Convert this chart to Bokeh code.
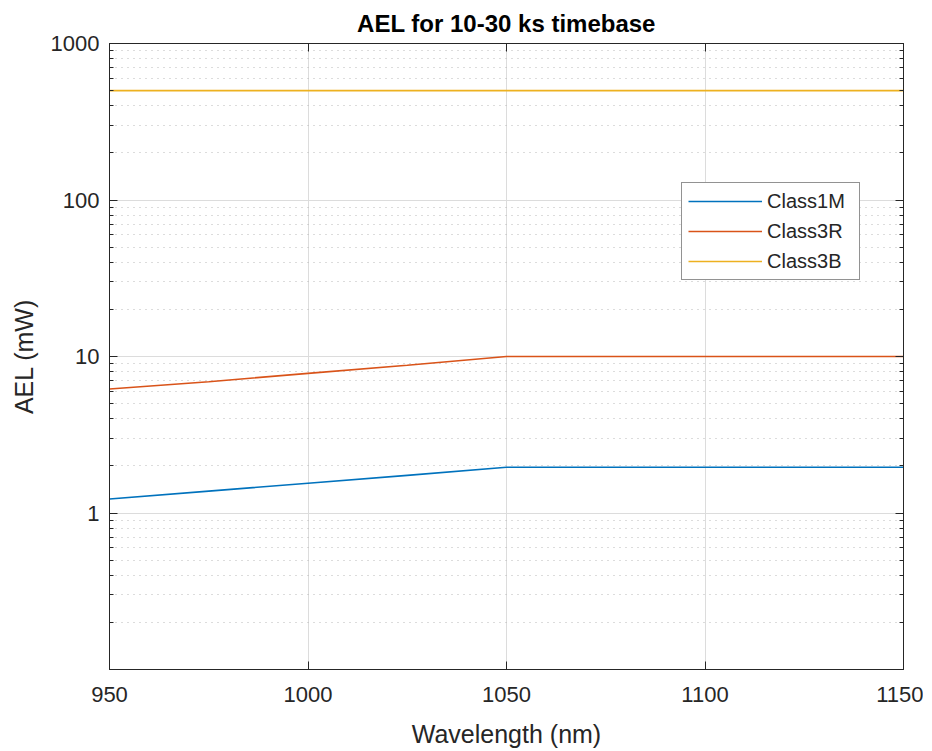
from bokeh.plotting import figure
from bokeh.models import (LinearAxis, LogAxis, FixedTicker, Legend, LegendItem,
                          PrintfTickFormatter, CustomJSTickFormatter, ColumnDataSource)
from bokeh.embed import file_html
from bokeh.resources import INLINE

# ---- data ----
wavelength = [950, 975, 1000, 1025, 1050, 1100, 1150]
class1m = [1.23, 1.38, 1.55, 1.74, 1.96, 1.96, 1.96]
class3r = [6.2, 6.9, 7.8, 8.8, 10.0, 10.0, 10.0]
class3b = [500, 500, 500, 500, 500, 500, 500]
series_names = ["Class1M", "Class3R", "Class3B"]
series_colors = ["#0072BD", "#D95319", "#EDB120"]
x_ticks = [950, 1000, 1050, 1100, 1150]
y_ticks = [1, 10, 100, 1000]

FONT = "Liberation Sans"
TXT = "#262626"

src = ColumnDataSource(dict(x=wavelength, c1=class1m, c3r=class3r, c3b=class3b))

p = figure(x_range=(950, 1150), y_range=(0.1, 1000), y_axis_type="log",
           frame_width=794, frame_height=626,
           min_border_left=109, min_border_right=20, min_border_top=43, min_border_bottom=79,
           output_backend="svg", toolbar_location=None,
           title="AEL for 10-30 ks timebase")
p.background_fill_color = "white"
p.border_fill_color = "white"
p.outline_line_color = TXT
p.outline_line_width = 1

p.title.align = "center"
p.title.text_font = FONT
p.title.text_font_size = "24px"
p.title.text_font_style = "bold"
p.title.text_color = "black"
p.title.standoff = 14

minor_y = [m * 10 ** e for e in range(-1, 3) for m in range(2, 10)]
yticker = FixedTicker(ticks=y_ticks, minor_ticks=minor_y)
xticker = FixedTicker(ticks=x_ticks)

def style_axis(ax, labels=True, minor=True):
    ax.axis_line_color = TXT
    ax.major_tick_line_color = TXT
    ax.minor_tick_line_color = TXT if minor else None
    ax.major_tick_in = 8
    ax.major_tick_out = 0
    ax.minor_tick_in = 4
    ax.minor_tick_out = 0
    ax.major_label_text_font = FONT
    ax.major_label_text_color = TXT
    ax.major_label_text_font_size = "22px"
    if not labels:
        ax.formatter = CustomJSTickFormatter(code="return ''")
        ax.major_label_standoff = 0

xa = p.xaxis[0]
xa.ticker = xticker
style_axis(xa, minor=False)
xa.major_label_standoff = 17
xa.axis_label = "Wavelength (nm)"
xa.axis_label_text_font = FONT
xa.axis_label_text_font_size = "25px"
xa.axis_label_text_font_style = "normal"
xa.axis_label_text_color = TXT
xa.axis_label_standoff = 15

ya = p.yaxis[0]
ya.ticker = yticker
ya.formatter = PrintfTickFormatter(format="%d")
style_axis(ya)
ya.major_label_standoff = 10
ya.axis_label = "AEL (mW)"
ya.axis_label_text_font = FONT
ya.axis_label_text_font_size = "25px"
ya.axis_label_text_font_style = "normal"
ya.axis_label_text_color = TXT
ya.axis_label_standoff = 10

top = LinearAxis(ticker=FixedTicker(ticks=x_ticks))
style_axis(top, labels=False, minor=False)
p.add_layout(top, "above")
right = LogAxis(ticker=FixedTicker(ticks=y_ticks, minor_ticks=minor_y))
style_axis(right, labels=False)
p.add_layout(right, "right")

p.xgrid.ticker = xticker
p.ygrid.ticker = yticker
p.xgrid.grid_line_color = "#dcdcdc"
p.ygrid.grid_line_color = "#dcdcdc"
p.ygrid.minor_grid_line_color = "#b8b8b8"
p.ygrid.minor_grid_line_dash = "1 5"

r1 = p.line("x", "c1", source=src, line_color=series_colors[0], line_width=1.6)
r2 = p.line("x", "c3r", source=src, line_color=series_colors[1], line_width=1.6)
r3 = p.line("x", "c3b", source=src, line_color=series_colors[2], line_width=1.6)

legend = Legend(items=[LegendItem(label=series_names[0], renderers=[r1]),
                       LegendItem(label=series_names[1], renderers=[r2]),
                       LegendItem(label=series_names[2], renderers=[r3])],
                location=(572, 389))
legend.glyph_width = 74
legend.glyph_height = 24
legend.label_height = 24
legend.label_width = 86
legend.spacing = 6
legend.padding = 6
legend.margin = 0
legend.label_standoff = 5
legend.label_text_font = FONT
legend.label_text_font_size = "20px"
legend.label_text_color = TXT
legend.border_line_color = TXT
legend.border_line_width = 1
legend.background_fill_color = "white"
legend.background_fill_alpha = 1
p.add_layout(legend, "center")

open("out.html", "w").write(file_html(p, INLINE))
